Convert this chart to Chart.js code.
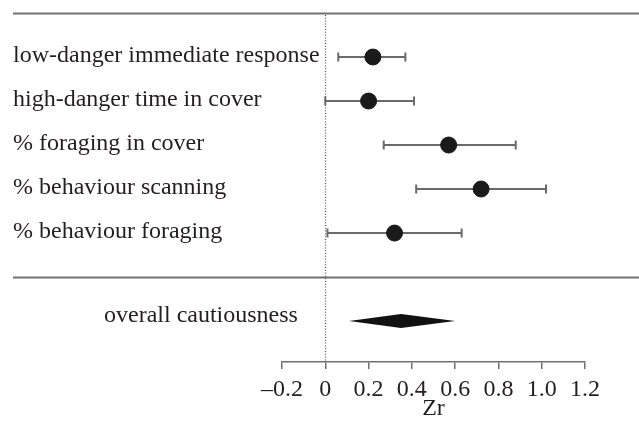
<!DOCTYPE html>
<html>
<head>
<meta charset="utf-8">
<script src="https://cdn.jsdelivr.net/npm/chart.js@4.4.1/dist/chart.umd.min.js"></script>
<style>
    html, body { margin: 0; padding: 0; background: #fff; }
</style>
</head>
<body>
<canvas id="forestChart" width="639" height="425"></canvas>
<script>
// --- Data ---
const outcomes = [
    'low-danger immediate response',
    'high-danger time in cover',
    '% foraging in cover',
    '% behaviour scanning',
    '% behaviour foraging'
];
const rowIndex = [0, 1, 2, 3, 4];
const effectZr = [0.22, 0.20, 0.57, 0.72, 0.32];
const ciLower = [0.06, 0.00, 0.27, 0.42, 0.01];
const ciUpper = [0.37, 0.41, 0.88, 1.02, 0.63];

const overallLabel = 'overall cautiousness';
const overallRow = 6;
const overallZr = 0.35;
const overallLower = 0.11;
const overallUpper = 0.60;

const tickValues = [-0.2, 0, 0.2, 0.4, 0.6, 0.8, 1.0, 1.2];
const tickLabels = ['\u20130.2', '0', '0.2', '0.4', '0.6', '0.8', '1.0', '1.2'];

// --- Styling ---
const serif = '"Liberation Serif", "Times New Roman", serif';
const inkColor = '#231f20';
const lineGrey = '#707070';

const forestDecor = {
    id: 'forestDecor',
    beforeDatasetsDraw(chart) {
        const ctx = chart.ctx;
        const x = chart.scales.x;
        const y = chart.scales.y;
        const area = chart.chartArea;

        ctx.save();

        // separators above the studies and above the summary
        ctx.strokeStyle = lineGrey;
        ctx.lineWidth = 1.8;
        [-1, 5].forEach(r => {
            const py = Math.round(y.getPixelForValue(r)) + 0.5;
            ctx.beginPath();
            ctx.moveTo(13, py);
            ctx.lineTo(chart.width, py);
            ctx.stroke();
        });

        // dotted zero line
        const zx = Math.round(x.getPixelForValue(0)) + 0.5;
        ctx.strokeStyle = '#555';
        ctx.lineWidth = 1.3;
        ctx.setLineDash([1, 1.8]);
        ctx.beginPath();
        ctx.moveTo(zx, y.getPixelForValue(-1) + 2);
        ctx.lineTo(zx, area.bottom);
        ctx.stroke();
        ctx.setLineDash([]);

        // confidence intervals
        ctx.strokeStyle = '#6a6a6a';
        ctx.lineWidth = 2;
        rowIndex.forEach((r, i) => {
            const py = y.getPixelForValue(r);
            const x0 = x.getPixelForValue(ciLower[i]);
            const x1 = x.getPixelForValue(ciUpper[i]);
            ctx.beginPath();
            ctx.moveTo(x0, py);
            ctx.lineTo(x1, py);
            ctx.moveTo(x0, py - 4.5);
            ctx.lineTo(x0, py + 4.5);
            ctx.moveTo(x1, py - 4.5);
            ctx.lineTo(x1, py + 4.5);
            ctx.stroke();
        });

        // summary diamond
        const oy = y.getPixelForValue(overallRow);
        ctx.fillStyle = '#111';
        ctx.beginPath();
        ctx.moveTo(x.getPixelForValue(overallLower), oy);
        ctx.lineTo(x.getPixelForValue(overallZr), oy - 7);
        ctx.lineTo(x.getPixelForValue(overallUpper), oy);
        ctx.lineTo(x.getPixelForValue(overallZr), oy + 7);
        ctx.closePath();
        ctx.fill();

        // row labels
        ctx.fillStyle = inkColor;
        ctx.font = '24px ' + serif;
        ctx.textBaseline = 'alphabetic';
        ctx.textAlign = 'left';
        rowIndex.forEach((r, i) => {
            ctx.fillText(outcomes[i], 13, y.getPixelForValue(r) + 5);
        });
        ctx.fillText(overallLabel, 104, oy + 1);

        ctx.restore();
    }
};

const chart = new Chart(document.getElementById('forestChart'), {
    type: 'scatter',
    data: {
        datasets: [{
            data: effectZr.map((v, i) => ({ x: v, y: rowIndex[i] })),
            backgroundColor: '#1a1a1a',
            borderColor: '#1a1a1a',
            pointRadius: 8,
            pointHoverRadius: 8
        }]
    },
    options: {
        responsive: false,
        animation: false,
        events: [],
        layout: { padding: { left: 282, right: 54, top: 13, bottom: 0 } },
        plugins: {
            legend: { display: false },
            tooltip: { enabled: false }
        },
        scales: {
            x: {
                type: 'linear',
                min: -0.2,
                max: 1.2,
                afterBuildTicks: s => { s.ticks = tickValues.map(v => ({ value: v })); },
                afterFit: s => { s.paddingLeft = 0; s.paddingRight = 0; s.height = 63; },
                ticks: {
                    color: inkColor,
                    font: { family: serif, size: 24, lineHeight: 1 },
                    padding: 9,
                    autoSkip: false,
                    maxRotation: 0,
                    callback: (v, i) => tickLabels[i]
                },
                grid: {
                    drawOnChartArea: false,
                    drawTicks: true,
                    tickLength: 7,
                    color: lineGrey,
                    lineWidth: 1.5
                },
                border: { display: true, color: lineGrey, width: 1.5 },
                title: {
                    display: true,
                    text: 'Zr',
                    color: inkColor,
                    font: { family: serif, size: 24, lineHeight: 1 },
                    padding: { top: 0, bottom: 4 }
                }
            },
            y: {
                type: 'linear',
                reverse: true,
                min: -1,
                max: 6.93,
                display: false
            }
        }
    },
    plugins: [forestDecor]
});
</script>
</body>
</html>
